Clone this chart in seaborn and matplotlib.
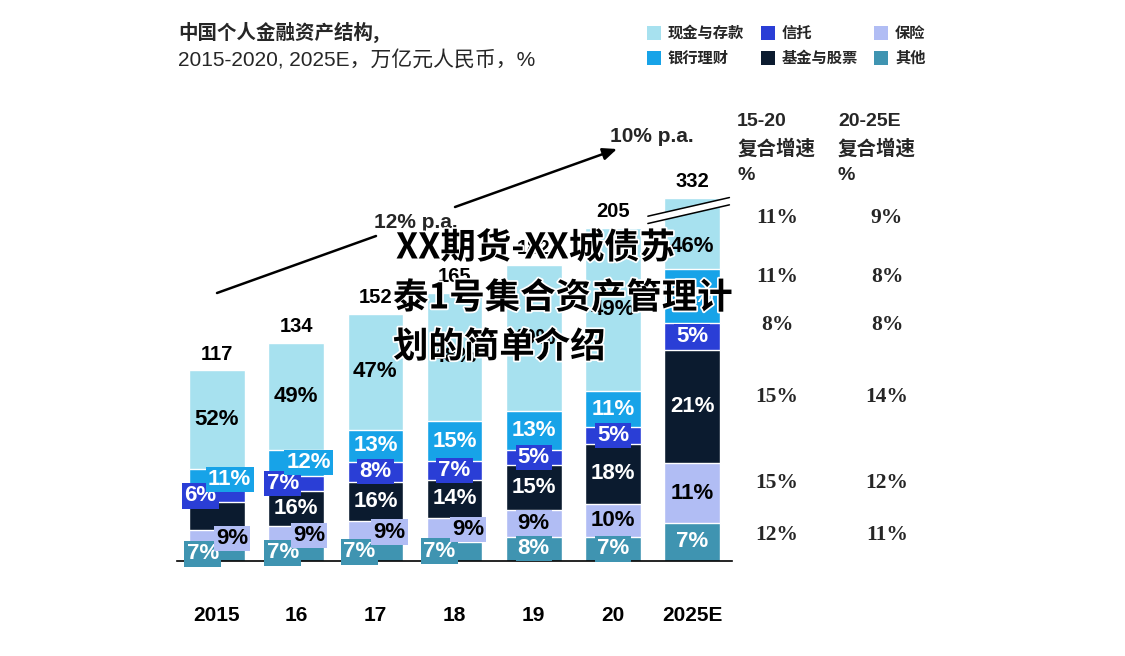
import numpy as np
import pandas as pd
import matplotlib
matplotlib.use("Agg")
import matplotlib.pyplot as plt
import seaborn as sns
from matplotlib import patheffects as pe
from matplotlib.patches import Polygon, Rectangle
from matplotlib.lines import Line2D

# ---------------- data ----------------
years = ['2015', '16', '17', '18', '19', '20', '2025E']
totals = [117, 134, 152, 165, 182, 205, 332]
series_names = ['其他', '保险', '基金与股票', '信托', '银行理财', '现金与存款']  # bottom -> top
other = [7, 7, 7, 7, 8, 7, 7]
insurance = [9, 9, 9, 9, 9, 10, 11]
funds = [15, 16, 16, 14, 15, 18, 21]
trust = [6, 7, 8, 7, 5, 5, 5]
wealth = [11, 12, 13, 15, 13, 11, 10]
cash = [52, 49, 47, 48, 49, 49, 46]

# CAGR table (rows: 现金与存款, 银行理财, 信托, 基金与股票, 保险, 其他)
cagr_rows = ['现金与存款', '银行理财', '信托', '基金与股票', '保险', '其他']
cagr_15_20 = [11, 11, 8, 15, 15, 12]
cagr_20_25 = [9, 8, 8, 14, 12, 11]
growth_labels = ['12% p.a.', '10% p.a.']

# ---------------- style ----------------
colors = {'其他': '#3F94B1', '保险': '#B1BDF4', '基金与股票': '#0B1B2F',
          '信托': '#2A3ED6', '银行理财': '#17A3E8', '现金与存款': '#A7E1EF'}
text_colors = {'其他': 'white', '保险': 'black', '基金与股票': 'white',
               '信托': 'white', '银行理财': 'white', '现金与存款': 'black'}
boxed = {'其他', '保险', '信托', '银行理财'}
# horizontal nudges of a few labels (category units)
label_dx = {('银行理财', 0): 0.16, ('信托', 0): -0.21, ('保险', 0): 0.19, ('其他', 0): -0.18,
            ('银行理财', 1): 0.16, ('信托', 1): -0.17, ('保险', 1): 0.16, ('其他', 1): -0.17,
            ('保险', 2): 0.18, ('其他', 2): -0.20,
            ('保险', 3): 0.17, ('其他', 3): -0.19}
hidden_labels = {('基金与股票', 0)}

sns.set_theme(style='white')
LAT = ['Liberation Sans', 'Noto Sans CJK SC']
CJK = ['Noto Sans CJK SC', 'DejaVu Sans']
plt.rcParams['font.family'] = LAT

W, H = 1125, 656
fig = plt.figure(figsize=(W / 100, H / 100), dpi=100)
fig.patch.set_facecolor('white')


def fp(x, y):
    return (x / W, 1 - y / H)


PX_PER_UNIT = 1.624
base_px = 560.5
top_px = 100
ax = fig.add_axes([177.4 / W, (H - base_px) / H, 554.4 / W, (base_px - top_px) / H])
ax.set_facecolor('white')

shares = np.array([other, insurance, funds, trust, wealth, cash], dtype=float)
frac = shares / shares.sum(axis=0)
cum = np.cumsum(frac, axis=0) * np.array(totals, dtype=float)
CAP = 223.0          # display cap of the broken 2025E bar
BREAK_LOW = 208.0
disp = np.minimum(cum, CAP)

for i in range(len(series_names) - 1, -1, -1):
    name = series_names[i]
    df = pd.DataFrame({'year': years, 'value': disp[i]})
    sns.barplot(data=df, x='year', y='value', order=years, color=colors[name],
                width=0.70, edgecolor='white', linewidth=1.0, errorbar=None,
                saturation=1, ax=ax)

ax.set_xlim(-0.5, 6.5)
ax.set_ylim(0, (base_px - top_px) / PX_PER_UNIT)
for s in ['top', 'right', 'left']:
    ax.spines[s].set_visible(False)
ax.spines['bottom'].set_color('black')
ax.spines['bottom'].set_linewidth(1.2)
ax.set_yticks([])
ax.set_xlabel('')
ax.set_ylabel('')
ax.tick_params(axis='x', length=0, pad=33)
for t in ax.get_xticklabels():
    t.set_fontsize(15)
    t.set_fontweight('bold')
    t.set_color('black')

# segment labels
for i, name in enumerate(series_names):
    for j in range(len(years)):
        if (name, j) in hidden_labels:
            continue
        bottom = disp[i - 1][j] if i > 0 else 0.0
        top = disp[i][j]
        if cum[i][j] > CAP:
            top = min(top, BREAK_LOW)
        y = (bottom + top) / 2
        x = j + label_dx.get((name, j), 0.0)
        kw = {}
        if name in boxed:
            kw['bbox'] = dict(boxstyle='square,pad=0.1', fc=colors[name], ec='none')
        ax.text(x, y, f'{int(shares[i][j])}%', ha='center', va='center', fontsize=16,
                fontweight='bold', color=text_colors[name], zorder=5, **kw)

# totals
for j, tot in enumerate(totals):
    ax.annotate(str(tot), (j, disp[-1][j]), xytext=(0, 5), textcoords='offset points',
                ha='center', va='bottom', fontsize=14.5, fontweight='bold', color='black')

# axis break on 2025E
jb = len(years) - 1
xl, xr = jb - 0.56, jb + 0.47
poly = Polygon([(xl, CAP - 11), (xr, CAP + 0.5), (xr, CAP - 4), (xl, CAP - 15.5)],
               closed=True, fc='white', ec='none', zorder=6, clip_on=False)
ax.add_patch(poly)
ax.plot([xl, xr], [CAP - 11, CAP + 0.5], color='black', lw=1.1, zorder=7, clip_on=False)
ax.plot([xl, xr], [CAP - 15.5, CAP - 4], color='black', lw=1.1, zorder=7, clip_on=False)

# growth arrows
fig.add_artist(Line2D([fp(217, 293)[0], fp(376, 236)[0]], [fp(217, 293)[1], fp(376, 236)[1]],
                      color='black', lw=1.8))
fig.text(*fp(416, 223), growth_labels[0], ha='center', va='center', fontsize=15, fontweight='bold')
ax.annotate('', xy=fp(617, 149), xytext=fp(455, 207), xycoords='figure fraction',
            textcoords='figure fraction',
            arrowprops=dict(arrowstyle='-|>,head_length=0.7,head_width=0.3', color='black', lw=1.8,
                            shrinkA=0, shrinkB=0))
fig.text(*fp(652, 137), growth_labels[1], ha='center', va='center', fontsize=15, fontweight='bold')

# title
fig.text(*fp(178, 32), '中国个人金融资产结构,', ha='left', va='center', fontsize=14,
         fontweight='bold', family=CJK)
fig.text(*fp(178, 60), '2015-2020, 2025E，万亿元人民币，%', ha='left', va='center', fontsize=15,
         family=LAT)

# legend
legend_pos = {'现金与存款': (647, 33), '银行理财': (647, 58), '信托': (761, 33),
              '基金与股票': (761, 58), '保险': (874, 33), '其他': (874, 58)}
for name, (lx, ly) in legend_pos.items():
    x0, y0 = fp(lx, ly + 7)
    fig.add_artist(Rectangle((x0, y0), 14 / W, 14 / H, transform=fig.transFigure,
                             fc=colors[name], ec='none'))
    fig.text(*fp(lx + 21, ly), name, ha='left', va='center', fontsize=11,
             fontweight='bold', family=CJK)

# CAGR table
for cx, head in [(737, '15-20'), (838, '20-25E')]:
    fig.text(*fp(cx, 122), head, ha='left', va='center', fontsize=14, fontweight='bold', family=LAT)
    fig.text(*fp(cx, 149), '复合增速', ha='left', va='center', fontsize=14, fontweight='bold', family=CJK)
    fig.text(*fp(cx, 176), '%', ha='left', va='center', fontsize=14, fontweight='bold', family=LAT)
row_y = [218, 277, 325, 397, 483, 535]
for k in range(len(cagr_rows)):
    fig.text(*fp(777, row_y[k]), f'{cagr_15_20[k]}%', ha='center', va='center', fontsize=15.5,
             fontweight='bold', family=['Liberation Serif', 'DejaVu Serif'])
    fig.text(*fp(887, row_y[k]), f'{cagr_20_25[k]}%', ha='center', va='center', fontsize=15.5,
             fontweight='bold', family=['Liberation Serif', 'DejaVu Serif'])

# overlay caption
wm = ['XX期货-XX城债苏', '泰1号集合资产管理计', '划的简单介绍']
for line, (wx, wy) in zip(wm, [(396, 248), (393, 298), (393, 347)]):
    fig.text(*fp(wx, wy), line, ha='left', va='center', fontsize=25.5, fontweight='bold',
             family=CJK, color='black', zorder=20,
             path_effects=[pe.withStroke(linewidth=2.5, foreground='white')])

fig.savefig('out.png', dpi=100)
